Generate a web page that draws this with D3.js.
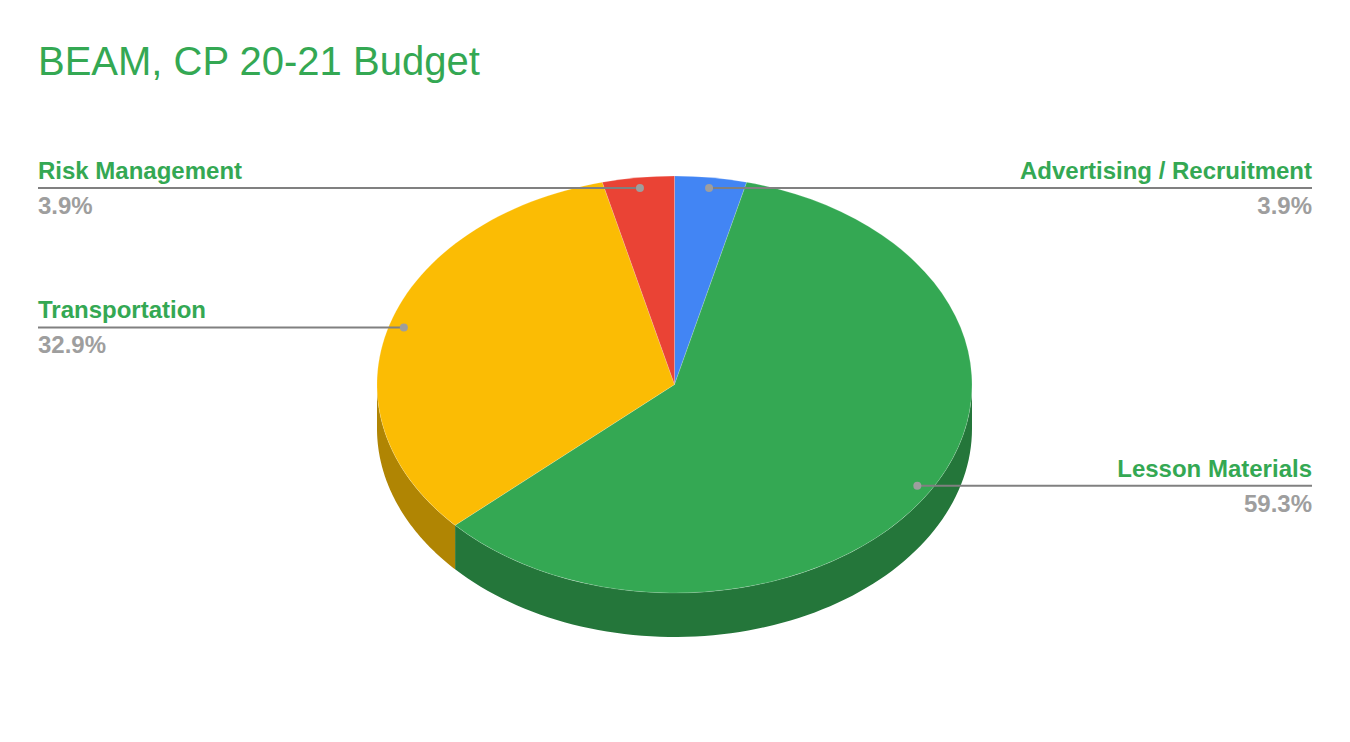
<!DOCTYPE html>
<html>
<head>
<meta charset="utf-8">
<script src="https://cdn.jsdelivr.net/npm/d3@7"></script>
<style>
  html, body { margin: 0; padding: 0; background: #fff; }
  svg { display: block; font-family: "Liberation Sans", Arial, sans-serif; }
</style>
</head>
<body>
<svg id="chart" width="1350" height="742"></svg>
<script>
const title = "BEAM, CP 20-21 Budget";
const categories = ["Advertising / Recruitment", "Lesson Materials", "Transportation", "Risk Management"];
const values = [3.9, 59.3, 32.9, 3.9];
const percentLabels = ["3.9%", "59.3%", "32.9%", "3.9%"];
const topColors = ["#4285f4", "#34a853", "#fbbc04", "#ea4335"];
const sideColors = ["#2e5daa", "#24763a", "#b08503", "#a42f25"];

const svg = d3.select("#chart");
const W = 1350, H = 742;
const cx = 674.5, cy = 384.5, rx = 297.5, ry = 208.5, depth = 44;
const leftX = 38, rightX = 1312;

svg.append("text")
  .attr("x", 38).attr("y", 75)
  .attr("font-size", 40)
  .attr("fill", "#34a853")
  .text(title);

const data = categories.map((c, i) => ({ name: c, value: values[i], pct: percentLabels[i], i }));
const pie = d3.pie().value(d => d.value).sort(null);
const arcs = pie(data);

// point on ellipse for angle measured clockwise from 12 o'clock
const px = (a, f = 1) => cx + f * rx * Math.sin(a);
const py = (a, f = 1) => cy - f * ry * Math.cos(a);

// sides (front visible half: angles between PI/2 and 3PI/2)
const sideG = svg.append("g");
const line = d3.line();
arcs.forEach(a => {
  const s = Math.max(a.startAngle, Math.PI / 2);
  const e = Math.min(a.endAngle, 3 * Math.PI / 2);
  if (e <= s) return;
  const n = 80;
  const pts = [];
  for (let k = 0; k <= n; k++) {
    const t = s + (e - s) * k / n;
    pts.push([px(t), py(t)]);
  }
  for (let k = n; k >= 0; k--) {
    const t = s + (e - s) * k / n;
    pts.push([px(t), py(t) + depth]);
  }
  sideG.append("path")
    .attr("d", line(pts) + "Z")
    .attr("fill", sideColors[a.data.i]);
});

// top faces
const arcGen = d3.arc().innerRadius(0).outerRadius(rx);
const topG = svg.append("g")
  .attr("transform", `translate(${cx},${cy}) scale(1,${ry / rx})`);
topG.selectAll("path").data(arcs).join("path")
  .attr("d", arcGen)
  .attr("fill", d => topColors[d.data.i])
  .attr("stroke", "#ffffff")
  .attr("stroke-opacity", 0.25)
  .attr("stroke-width", 0.8);

// labels with leader lines
const labG = svg.append("g");
arcs.forEach(a => {
  const mid = (a.startAngle + a.endAngle) / 2;
  const dx = px(mid, 0.95), dy = py(mid, 0.95);
  const right = Math.sin(mid) > 0;
  const x0 = right ? dx : leftX;
  const x1 = right ? rightX : dx;
  labG.append("line")
    .attr("x1", x0).attr("x2", x1)
    .attr("y1", dy).attr("y2", dy)
    .attr("stroke", "#808080").attr("stroke-width", 2);
  labG.append("circle")
    .attr("cx", dx).attr("cy", dy).attr("r", 4)
    .attr("fill", "#9e9e9e");
  const tx = right ? rightX : leftX;
  const anchor = right ? "end" : "start";
  labG.append("text")
    .attr("x", tx).attr("y", dy - 9)
    .attr("text-anchor", anchor)
    .attr("font-size", 24).attr("font-weight", "bold")
    .attr("fill", "#34a853")
    .text(a.data.name);
  labG.append("text")
    .attr("x", tx).attr("y", dy + 26)
    .attr("text-anchor", anchor)
    .attr("font-size", 24).attr("font-weight", "bold")
    .attr("fill", "#9e9e9e")
    .text(a.data.pct);
});
</script>
</body>
</html>
